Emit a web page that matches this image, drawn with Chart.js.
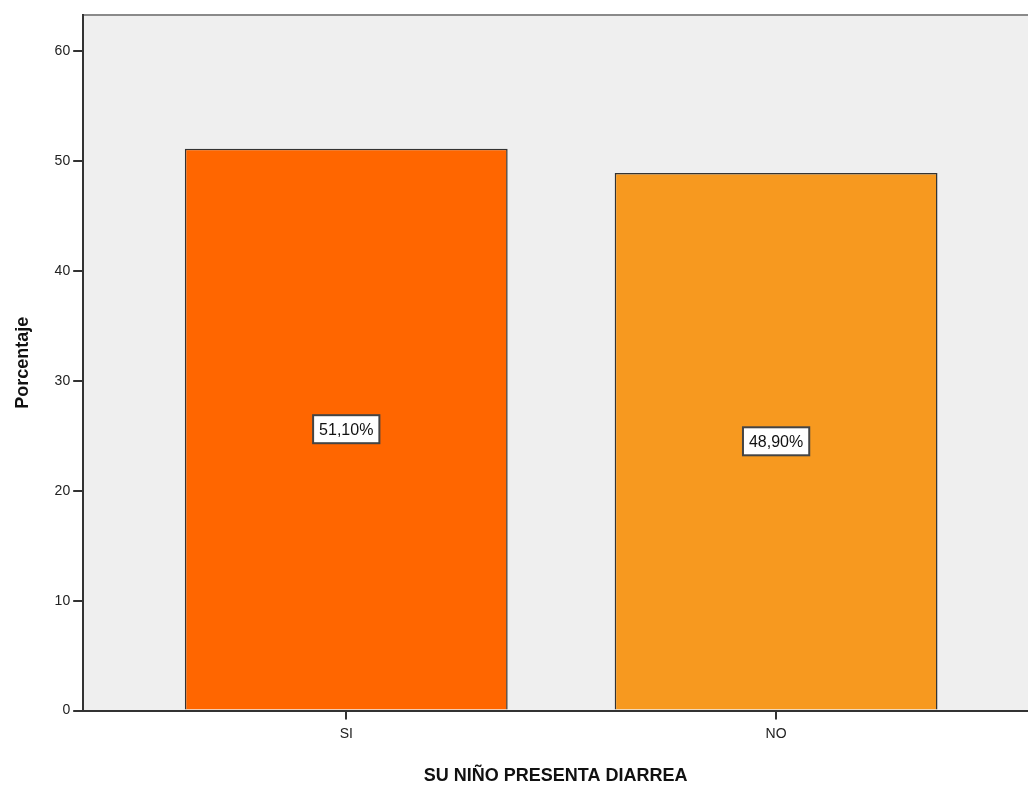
<!DOCTYPE html>
<html>
<head>
<meta charset="utf-8">
<script src="https://cdn.jsdelivr.net/npm/chart.js@4/dist/chart.umd.min.js"></script>
<style>
  html, body { margin: 0; padding: 0; background: #fff; }
  #wrap { width: 1028px; height: 788px; }
</style>
</head>
<body>
<div id="wrap"><canvas id="barchart" width="1028" height="788"></canvas></div>
<script>
var categories = ['SI', 'NO'];
var percentages = [51.1, 48.9];
var barColors = ['#FF6600', '#F7991F'];
var yTicks = [0, 10, 20, 30, 40, 50, 60];

var font = "'Liberation Sans', Arial, sans-serif";

// grey plot background plus the top frame line
var plotFrame = {
    id: 'plotFrame',
    beforeDraw: function (chart) {
        var a = chart.chartArea, ctx = chart.ctx;
        ctx.save();
        ctx.fillStyle = '#EFEFEF';
        ctx.fillRect(a.left, a.top, a.right - a.left, a.bottom - a.top);
        ctx.strokeStyle = '#8a8a8a';
        ctx.lineWidth = 2;
        ctx.beginPath();
        ctx.moveTo(a.left, a.top);
        ctx.lineTo(a.right, a.top);
        ctx.stroke();
        ctx.restore();
    }
};

// value boxes in the middle of each bar
var valueBoxes = {
    id: 'valueBoxes',
    afterDatasetsDraw: function (chart) {
        var ctx = chart.ctx;
        var meta = chart.getDatasetMeta(0);
        ctx.save();
        ctx.font = '16px ' + font;
        ctx.textAlign = 'center';
        ctx.textBaseline = 'middle';
        meta.data.forEach(function (bar, i) {
            var txt = percentages[i].toFixed(2).replace('.', ',') + '%';
            var cx = bar.x;
            var cy = (bar.y + bar.base) / 2;
            var w = ctx.measureText(txt).width + 12;
            var h = 28;
            ctx.fillStyle = '#fff';
            ctx.fillRect(cx - w / 2, cy - h / 2, w, h);
            ctx.strokeStyle = '#444';
            ctx.lineWidth = 2;
            ctx.strokeRect(cx - w / 2, cy - h / 2, w, h);
            ctx.fillStyle = '#111';
            ctx.fillText(txt, cx, cy + 1);
        });
        ctx.restore();
    }
};

var config = {
    type: 'bar',
    data: {
        datasets: [{
            label: 'Porcentaje',
            data: percentages.map(function (v, i) { return { x: i, y: v }; }),
            backgroundColor: barColors,
            borderColor: '#333',
            borderWidth: 1.5,
            categoryPercentage: 1,
            barPercentage: 0.751
        }]
    },
    options: {
        responsive: false,
        animation: false,
        layout: { padding: { top: 15, right: 0, left: 6, bottom: 0 } },
        plugins: {
            legend: { display: false },
            tooltip: { enabled: false }
        },
        scales: {
            x: {
                type: 'linear',
                offset: false,
                min: -0.612,
                max: 1.586,
                afterBuildTicks: function (scale) {
                    scale.ticks = categories.map(function (c, i) { return { value: i }; });
                },
                ticks: {
                    autoSkip: false,
                    maxRotation: 0,
                    color: '#222',
                    font: { family: font, size: 14 },
                    padding: 6,
                    callback: function (v) { return categories[v]; }
                },
                grid: { offset: false, drawOnChartArea: false, drawTicks: true, tickLength: 9, color: '#333', lineWidth: 2 },
                border: { display: true, color: '#333', width: 2 },
                title: {
                    display: true,
                    text: 'SU NIÑO PRESENTA DIARREA',
                    color: '#111',
                    font: { family: font, size: 18, weight: 'bold' },
                    padding: { top: 17, bottom: 1 }
                }
            },
            y: {
                min: 0,
                max: 63.27,
                afterBuildTicks: function (scale) {
                    scale.ticks = yTicks.map(function (v) { return { value: v }; });
                },
                ticks: {
                    color: '#222',
                    font: { family: font, size: 14 },
                    padding: 3
                },
                grid: { drawOnChartArea: false, drawTicks: true, tickLength: 10, color: '#333', lineWidth: 2 },
                border: { display: true, color: '#333', width: 2 },
                title: {
                    display: true,
                    text: 'Porcentaje',
                    color: '#111',
                    font: { family: font, size: 18, weight: 'bold' },
                    padding: { top: 6, bottom: 18 }
                }
            }
        }
    },
    plugins: [plotFrame, valueBoxes]
};

window.onload = function () {
    var ctx = document.getElementById('barchart').getContext('2d');
    window.myBar = new Chart(ctx, config);
};
</script>
</body>
</html>
